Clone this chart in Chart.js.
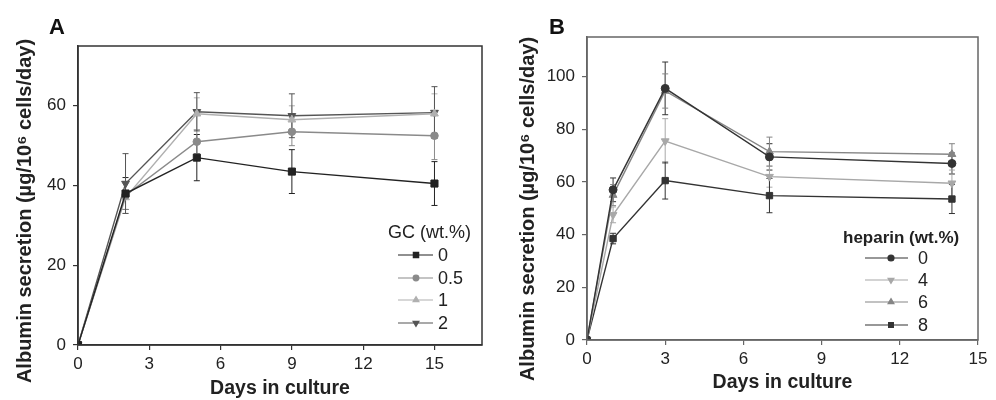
<!DOCTYPE html>
<html>
<head>
<meta charset="utf-8">
<script src="https://cdn.jsdelivr.net/npm/chart.js@4"></script>
<style>
  body { margin: 0; background: #fff; }
  #wrap { position: relative; width: 996px; height: 400px; overflow: hidden; }
  .panel { position: absolute; top: 0; height: 400px; }
  .letter { position: absolute; top: 14px; line-height: 22px; font: bold 22px "Liberation Sans", Arial, sans-serif; color: #111; }
</style>
</head>
<body>
<div id="wrap">
  <div class="panel" style="left:0;width:500px"><canvas id="chartA" width="500" height="400"></canvas></div>
  <div class="panel" style="left:500px;width:496px"><canvas id="chartB" width="496" height="400"></canvas></div>
  <div class="letter" style="left:49px">A</div>
  <div class="letter" style="left:549px">B</div>
</div>
<script>
// panel A : GC content
const daysA = [0, 2, 5, 9, 15];
const gcLabels = ["0", "0.5", "1", "2"];
const gc0 = [0, 38, 47, 43.5, 40.5];
const gc05 = [0, 37.5, 51, 53.5, 52.5];
const gc1 = [0, 37, 58, 56.5, 58];
const gc2 = [0, 40.5, 58.5, 57.5, 58.3];
const gc0Err = [0, 4, 5.8, 5.5, 5.5];
const gc05Err = [0, 3.5, 3, 3.5, 6];
const gc1Err = [0, 4, 4, 3.5, 5];
const gc2Err = [0, 7.5, 4.8, 5.5, 6.5];
const xTicksA = [0, 3, 6, 9, 12, 15];
const yTicksA = [0, 20, 40, 60];

// panel B : heparin content
const daysB = [0, 1, 3, 7, 14];
const hepLabels = ["0", "4", "6", "8"];
const hep0 = [0, 57, 95.5, 69.5, 67];
const hep4 = [0, 47.5, 75.5, 62, 59.5];
const hep6 = [0, 55, 94.5, 71.5, 70.5];
const hep8 = [0, 38.5, 60.5, 54.8, 53.5];
const hep0Err = [0, 4.5, 10, 5, 4];
const hep4Err = [0, 3, 8.5, 4, 5];
const hep6Err = [0, 4, 6.5, 5.5, 4];
const hep8Err = [0, 2, 7, 6.5, 5.5];
const xTicksB = [0, 3, 6, 9, 12, 15];
const yTicksB = [0, 20, 40, 60, 80, 100];

const FONT = '"Liberation Sans", Arial, sans-serif';
const yTitleText = "Albumin secretion (\u00b5g/10\u2076 cells/day)";

function pts(days, vals) {
  return days.map((d, i) => ({ x: d, y: vals[i] }));
}

function series(label, days, vals, color, style, rotation, radius) {
  return {
    label: label,
    data: pts(days, vals),
    borderColor: color,
    backgroundColor: color,
    pointBackgroundColor: color,
    pointBorderColor: color,
    borderWidth: 1.4,
    pointStyle: style,
    pointRotation: rotation,
    pointRadius: radius,
    pointBorderWidth: 1,
    tension: 0,
    showLine: true
  };
}

// box frame round the plot
const framePlugin = {
  id: "frame",
  afterDatasetsDraw(chart, args, opts) {
    const a = chart.chartArea;
    const ctx = chart.ctx;
    ctx.save();
    ctx.strokeStyle = opts.color;
    ctx.lineWidth = 1.5;
    ctx.strokeRect(a.left, a.top, a.right - a.left, a.bottom - a.top);
    ctx.restore();
  }
};

// vertical error bars with caps
const errPlugin = {
  id: "errbars",
  beforeDatasetsDraw(chart, args, opts) {
    const ctx = chart.ctx;
    const ys = chart.scales.y;
    ctx.save();
    chart.data.datasets.forEach((ds, i) => {
      const meta = chart.getDatasetMeta(i);
      const errs = opts.errors[i];
      ctx.strokeStyle = ds.borderColor;
      ctx.lineWidth = 1;
      meta.data.forEach((p, j) => {
        const e = errs[j];
        if (!e) return;
        const v = ds.data[j].y;
        const yt = ys.getPixelForValue(v + e);
        const yb = ys.getPixelForValue(v - e);
        ctx.beginPath();
        ctx.moveTo(p.x, yt); ctx.lineTo(p.x, yb);
        ctx.moveTo(p.x - 3, yt); ctx.lineTo(p.x + 3, yt);
        ctx.moveTo(p.x - 3, yb); ctx.lineTo(p.x + 3, yb);
        ctx.stroke();
      });
    });
    ctx.restore();
  }
};

// legend drawn inside the plot, plus the rotated y title
const boxLegendPlugin = {
  id: "boxLegend",
  afterDraw(chart, args, o) {
    const ctx = chart.ctx;
    ctx.save();
    ctx.fillStyle = "#222";
    ctx.textBaseline = "middle";
    ctx.textAlign = "left";
    ctx.font = o.titleFont;
    ctx.fillText(o.title, o.titleX, o.titleY);
    ctx.font = o.font;
    chart.data.datasets.forEach((ds, i) => {
      const y = o.rows[i];
      ctx.strokeStyle = ds.borderColor;
      ctx.lineWidth = 1.2;
      ctx.beginPath();
      ctx.moveTo(o.lineX0, y); ctx.lineTo(o.lineX1, y);
      ctx.stroke();
      ctx.fillStyle = ds.borderColor;
      Chart.helpers.drawPoint(ctx, {
        pointStyle: ds.pointStyle, rotation: ds.pointRotation,
        radius: ds.pointRadius * 0.75, borderWidth: 1
      }, o.markX, y);
      ctx.fillStyle = "#222";
      ctx.fillText(ds.label, o.textX, y + 1);
    });
    // y axis title
    ctx.translate(o.yTitleX, o.yTitleY);
    ctx.rotate(-Math.PI / 2);
    ctx.textAlign = "center";
    ctx.font = o.yTitleFont;
    ctx.fillStyle = "#222";
    ctx.fillText(yTitleText, 0, 0);
    ctx.restore();
  }
};

function makeChart(id, g) {
  return new Chart(document.getElementById(id), {
    type: "scatter",
    data: { datasets: g.datasets },
    plugins: [errPlugin, framePlugin, boxLegendPlugin],
    options: {
      responsive: false,
      animation: false,
      layout: { padding: { left: 0, top: g.top, right: g.right, bottom: 0 } },
      scales: {
        x: {
          type: "linear",
          min: 0, max: g.xMax,
          afterBuildTicks: s => { s.ticks = g.xTicks.map(v => ({ value: v })); },
          afterFit: s => { s.height = g.xHeight; },
          grid: { display: true, drawOnChartArea: false, drawTicks: true, tickLength: 5, color: g.axis, lineWidth: 1.2 },
          border: { display: true, color: g.axis, width: 1.5 },
          ticks: { color: "#222", font: { family: FONT, size: 17 }, padding: 4, maxRotation: 0 },
          title: {
            display: true, text: "Days in culture", color: "#222",
            font: { family: FONT, size: 19.5, weight: "bold" },
            padding: { top: 0, bottom: g.xTitlePad }
          }
        },
        y: {
          type: "linear",
          min: 0, max: g.yMax,
          afterBuildTicks: s => { s.ticks = g.yTicks.map(v => ({ value: v })); },
          afterFit: s => { s.width = g.yWidth; },
          grid: { display: true, drawOnChartArea: false, drawTicks: true, tickLength: 5, color: g.axis, lineWidth: 1.2 },
          border: { display: true, color: g.axis, width: 1.5 },
          ticks: { color: "#222", font: { family: FONT, size: 17 }, padding: 7 }
        }
      },
      plugins: {
        legend: { display: false },
        tooltip: { enabled: false },
        frame: { color: g.axis },
        errbars: { errors: g.errors },
        boxLegend: g.legend
      }
    }
  });
}

makeChart("chartA", {
  datasets: [
    series(gcLabels[0], daysA, gc0, "#222222", "rect", 0, 5),
    series(gcLabels[1], daysA, gc05, "#8a8a8a", "circle", 0, 3.8),
    series(gcLabels[2], daysA, gc1, "#b0b0b0", "triangle", 0, 4.5),
    series(gcLabels[3], daysA, gc2, "#555555", "triangle", 180, 4.5)
  ],
  errors: [gc0Err, gc05Err, gc1Err, gc2Err],
  xTicks: xTicksA, yTicks: yTicksA,
  xMax: 17, yMax: 75,
  top: 46, right: 18, xHeight: 55, yWidth: 78, xTitlePad: 0,
  axis: "#333",
  legend: {
    title: "GC (wt.%)", titleX: 388, titleY: 233,
    titleFont: "18px " + FONT, font: "18px " + FONT,
    rows: [255, 278, 300, 323],
    lineX0: 398, lineX1: 433, markX: 416, textX: 438,
    yTitleX: 25, yTitleY: 211, yTitleFont: "bold 20px " + FONT
  }
});

makeChart("chartB", {
  datasets: [
    series(hepLabels[0], daysB, hep0, "#333333", "circle", 0, 4),
    series(hepLabels[1], daysB, hep4, "#a8a8a8", "triangle", 180, 4.5),
    series(hepLabels[2], daysB, hep6, "#858585", "triangle", 0, 4.5),
    series(hepLabels[3], daysB, hep8, "#333333", "rect", 0, 4.5)
  ],
  errors: [hep0Err, hep4Err, hep6Err, hep8Err],
  xTicks: xTicksB, yTicks: yTicksB,
  xMax: 15, yMax: 115,
  top: 37, right: 18, xHeight: 60, yWidth: 87, xTitlePad: 6,
  axis: "#666",
  legend: {
    title: "heparin (wt.%)", titleX: 343, titleY: 238,
    titleFont: "bold 17px " + FONT, font: "18px " + FONT,
    rows: [258, 280, 302, 325],
    lineX0: 365, lineX1: 408, markX: 391, textX: 418,
    yTitleX: 28, yTitleY: 209, yTitleFont: "bold 20px " + FONT
  }
});
</script>
</body>
</html>
